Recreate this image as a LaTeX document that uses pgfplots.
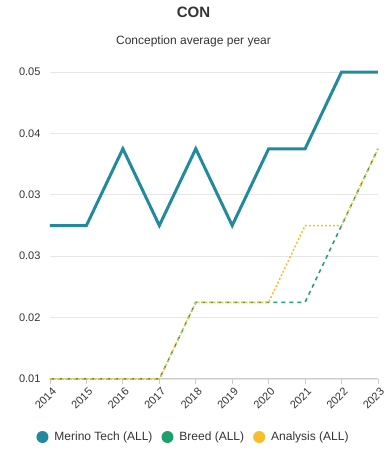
\documentclass[border=0pt]{standalone}
\usepackage{pgfplots}
\pgfplotsset{compat=1.18}
\usepackage{fontspec}
\setmainfont{Liberation Sans}
\definecolor{merino}{HTML}{218A9C}
\definecolor{breed}{HTML}{1F9E6E}
\definecolor{analysis}{HTML}{FBBC2C}
\definecolor{gridc}{HTML}{E6E6E6}
\definecolor{axc}{HTML}{CCCCCC}
\definecolor{txt}{HTML}{333333}
\begin{document}
\begin{tikzpicture}[x=1pt,y=1pt]
\useasboundingbox (0,0) rectangle (387,450);
\node[font=\fontsize{15}{17}\selectfont\bfseries, text=txt] at (193.5,438) {CON};
\node[font=\fontsize{12}{14}\selectfont, text=txt] at (193.5,409) {Conception average per year};
\begin{axis}[
  at={(50pt,71pt)}, anchor=south west,
  scale only axis, width=328pt, height=307pt,
  xmin=2014, xmax=2023, ymin=0.01, ymax=0.05,
  scaled y ticks=false,
  xtick={2014,2015,2016,2017,2018,2019,2020,2021,2022,2023},
  xticklabels={2014,2015,2016,2017,2018,2019,2020,2021,2022,2023},
  ytick={0.01,0.018,0.026,0.034,0.042,0.05},
  yticklabels={0.01,0.02,0.03,0.03,0.04,0.05},
  ymajorgrids, grid style={gridc, line width=0.8pt},
  axis x line*=bottom, axis y line*=left,
  x axis line style={axc, line width=1pt},
  y axis line style={draw=none},
  xtick style={axc, line width=0.8pt},
  major tick length=5pt,
  xtick align=outside,
  ytick style={draw=none},
  tick label style={font=\fontsize{11}{13}\selectfont, text=txt},
  x tick label style={rotate=45, anchor=north east, inner sep=1pt, yshift=-2pt},
  y tick label style={xshift=-6pt},
  /pgf/number format/assume math mode=true,
  clip=false,
  legend columns=3,
  legend style={at={(0.4375,-0.189)}, anchor=center, draw=none, fill=none,
    font=\fontsize{12}{14}\selectfont, text=txt,
    /tikz/every odd column/.append style={column sep=4pt},
    /tikz/every even column/.append style={column sep=7pt}},
  legend cell align=left,
]
\addplot[merino, line width=3pt, line join=miter,
  legend image code/.code={\fill[merino,draw=none] (0.3em,0) circle (6pt);}]
  coordinates {(2014,0.03)(2015,0.03)(2016,0.04)(2017,0.03)(2018,0.04)(2019,0.03)(2020,0.04)(2021,0.04)(2022,0.05)(2023,0.05)};
\addlegendentry{Merino Tech (ALL)}
\addplot[breed, line width=1.5pt, dash pattern=on 4pt off 4pt,
  legend image code/.code={\fill[breed,draw=none] (0.3em,0) circle (6pt);}]
  coordinates {(2014,0.01)(2015,0.01)(2016,0.01)(2017,0.01)(2018,0.02)(2019,0.02)(2020,0.02)(2021,0.02)(2022,0.03)(2023,0.04)};
\addlegendentry{Breed (ALL)}
\addplot[analysis, line width=1.5pt, dash pattern=on 2pt off 2pt,
  legend image code/.code={\fill[analysis,draw=none] (0.3em,0) circle (6pt);}]
  coordinates {(2014,0.01)(2015,0.01)(2016,0.01)(2017,0.01)(2018,0.02)(2019,0.02)(2020,0.02)(2021,0.03)(2022,0.03)(2023,0.04)};
\addlegendentry{Analysis (ALL)}
\end{axis}
\end{tikzpicture}
\end{document}
